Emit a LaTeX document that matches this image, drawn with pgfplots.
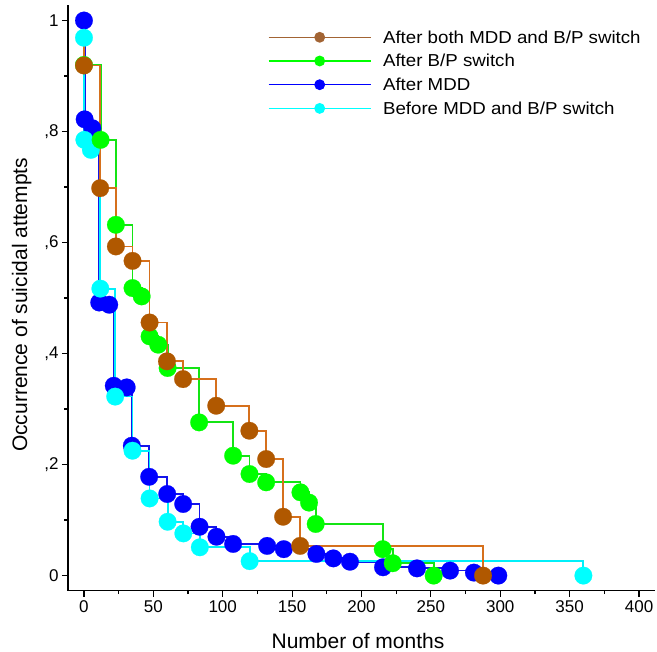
\documentclass[border=0pt]{standalone}
\usepackage{pgfplots}
\pgfplotsset{compat=1.18}
\usepackage{fontspec}
\setmainfont{Liberation Sans}
\newfontfamily\legfont{Liberation Sans}[FakeStretch=1.08]

\definecolor{brownM}{RGB}{176,88,0}
\definecolor{brownL}{RGB}{214,112,28}
\definecolor{brownLeg}{RGB}{162,100,52}
\definecolor{greenM}{RGB}{0,255,0}
\definecolor{greenL}{RGB}{20,228,20}
\definecolor{blueM}{RGB}{0,0,255}
\definecolor{blueL}{RGB}{20,20,235}
\definecolor{cyanM}{RGB}{0,255,255}
\definecolor{cyanL}{RGB}{0,240,250}

\begin{document}
\begin{tikzpicture}
\begin{axis}[
  at={(0pt,0pt)}, anchor=south west,
  scale only axis, width=587pt, height=585.7pt,
  xmin=-11.5, xmax=411.5, ymin=-0.0272, ymax=1.028,
  axis lines*=left,
  axis line style={line width=1.5pt, black},
  tick align=outside,
  major tick length=6pt, minor tick length=3.5pt,
  tick style={black, line width=1.2pt},
  xtick={0,50,100,150,200,250,300,350,400},
  xticklabels={0,50,100,150,200,250,300,350,400},
  minor xtick={25,75,125,175,225,275,325,375},
  ytick={0,0.2,0.4,0.6,0.8,1},
  yticklabels={0,{,2},{,4},{,6},{,8},1},
  minor ytick={0.1,0.3,0.5,0.7,0.9},
  ticklabel style={font=\fontsize{17}{20}\selectfont},
  xlabel={Number of months},
  ylabel={Occurrence of suicidal attempts},
  label style={font=\fontsize{21}{25}\selectfont},
  xlabel style={at={(axis description cs:0.494,-0.0983)}, anchor=base},
  ylabel style={at={(axis description cs:-0.0698,0.488)}, anchor=base},
  legend cell align=left,
  legend style={
    at={(axis description cs:0.3407,0.9568)}, anchor=north west,
    draw=none, fill=none, inner sep=0pt, outer sep=0pt,
    row sep=9.7pt, column sep=11.7pt,
    font=\legfont\fontsize{17.3}{18}\selectfont,
    nodes={inner sep=0pt, text height=13pt, text depth=1pt},
  },
  legend image code/.code={%
    \draw[#1] (0pt,0pt) -- (102pt,0pt);
    \fill[#1] (51pt,0pt) circle (4.7pt);
  },
]
% After MDD (blue)
\addplot[blueL, line width=1.8pt, const plot, mark=*, mark size=8.8pt,
  mark options={fill=blueM, draw=blueM, line width=0.2pt}, forget plot] coordinates {
  (0,1) (0.5,0.822) (6,0.806) (11,0.492) (18.2,0.488) (21.5,0.342) (30.8,0.339)
  (34.5,0.234) (47,0.178) (60,0.147) (71.5,0.129) (83.3,0.088) (95.5,0.070)
  (107.5,0.057) (132,0.0535) (144,0.0476) (167.5,0.039) (179.7,0.031)
  (191.7,0.025) (215.5,0.015) (240,0.013) (263.8,0.009) (281,0.0054) (298.6,0)
};
% Before MDD and B/P switch (cyan)
\addplot[cyanL, line width=1.8pt, const plot, mark=*, mark size=8.8pt,
  mark options={fill=cyanM, draw=cyanM, line width=0.2pt},
  mark indices={2,3,4,5,6,7,8,9,10,11,12,13},
  forget plot] coordinates {
  (0,1) (0,0.969) (0.3,0.785) (5,0.767) (11.8,0.517) (22.5,0.3225) (35,0.225)
  (47.3,0.139) (60.3,0.097) (71.6,0.076) (83.5,0.051) (119.4,0.026) (359.9,0)
};
% After B/P switch (green)
\addplot[greenL, line width=1.8pt, const plot, mark=*, mark size=8.8pt,
  mark options={fill=greenM, draw=greenM, line width=0.2pt},
  mark indices={2,3,4,5,6,7,8,9,10,11,12,13,14,15,16,17,18,19}, forget plot] coordinates {
  (0,1) (0,0.92) (12,0.785) (23,0.632) (35,0.518) (41.6,0.503) (47.3,0.431)
  (53.5,0.416) (60.3,0.374) (83,0.276) (107.5,0.216) (119.3,0.183) (131.3,0.168)
  (156,0.150) (162.2,0.1315) (167,0.093) (215.3,0.0476) (222.5,0.0223) (252,0)
};
% After both MDD and B/P switch (brown)
\addplot[brownL, line width=1.8pt, const plot, mark=*, mark size=8.8pt,
  mark options={fill=brownM, draw=brownM, line width=0.2pt},
  mark indices={2,3,4,5,6,7,8,9,10,11,12,13,14}, forget plot] coordinates {
  (0,1) (0,0.919) (11.7,0.698) (23,0.593) (35,0.567) (47.3,0.456) (59.8,0.386)
  (71.4,0.354) (95.3,0.306) (119.2,0.261) (131.3,0.210) (143.5,0.106)
  (155.8,0.0535) (287.6,0)
};

\addlegendimage{brownLeg, line width=1.4pt}
\addlegendentry{After both MDD and B/P switch}
\addlegendimage{greenM, line width=1.4pt}
\addlegendentry{After B/P switch}
\addlegendimage{blueM, line width=1.4pt}
\addlegendentry{After MDD}
\addlegendimage{cyanM, line width=1.4pt}
\addlegendentry{Before MDD and B/P switch}
\end{axis}
\pgfresetboundingbox
\path[use as bounding box] (-68pt,-61.3pt) rectangle (589pt,590.7pt);
\end{tikzpicture}
\end{document}
